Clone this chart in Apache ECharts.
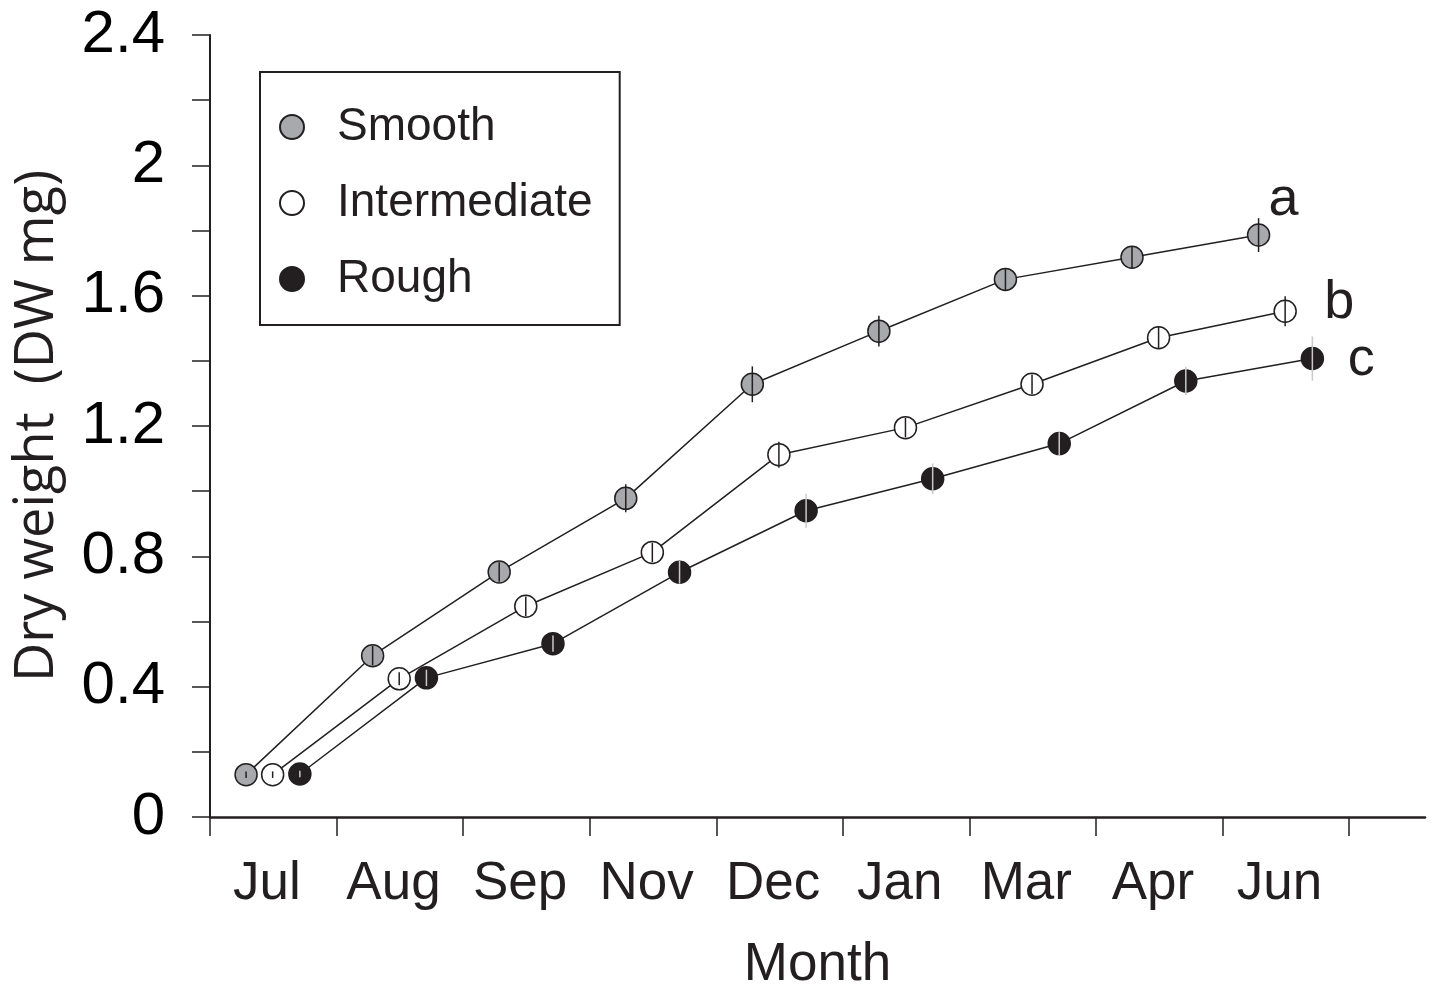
<!DOCTYPE html>
<html>
<head>
<meta charset="utf-8">
<script src="https://cdn.jsdelivr.net/npm/echarts@6/dist/echarts.min.js"></script>
<style>
html,body{margin:0;padding:0;background:#fff;}
#chart{width:1434px;height:987px;}
</style>
</head>
<body>
<div id="chart"></div>
<script>
// ---- data ----
const months = ['Jul','Aug','Sep','Nov','Dec','Jan','Mar','Apr','Jun'];
const seriesNames = ['Smooth','Intermediate','Rough'];
const smooth = [0.13,0.495,0.752,0.978,1.328,1.491,1.65,1.718,1.786];
const smoothErr = [0.01,0.03,0.03,0.043,0.055,0.047,0.033,0.033,0.052];
const intermediate = [0.13,0.424,0.647,0.812,1.112,1.195,1.328,1.471,1.552];
const intermediateErr = [0.01,0.02,0.03,0.03,0.04,0.03,0.03,0.033,0.046];
const rough = [0.132,0.427,0.532,0.751,0.94,1.038,1.146,1.338,1.407];
const roughErr = [0.01,0.025,0.025,0.035,0.052,0.047,0.035,0.043,0.068];
const sigLetters = ['a','b','c'];
const yTickLabels = ['0','0.4','0.8','1.2','1.6','2','2.4'];

// ---- style config ----
const INK = '#231f20';
const FONT = "'Liberation Sans', Arial, Helvetica, sans-serif";
const styles = [
  {fill:'#a7a9ac', bar:INK, offset:0.285, letterOffset:[25,-35]},
  {fill:'#ffffff', bar:INK, offset:0.495, letterOffset:[54,-8]},
  {fill:INK, bar:'#c9c9c9', offset:0.71, letterOffset:[49,2]}
];
const labelOffset = 0.45;
const values = [smooth, intermediate, rough];
const errs = [smoothErr, intermediateErr, roughErr];

const series = [];
values.forEach((vals, s) => {
  const st = styles[s];
  const data = vals.map((v, i) => {
    const item = {value:[i + st.offset, v]};
    if (i === vals.length - 1) {
      item.label = {
        show:true, formatter: sigLetters[s], position:'inside',
        offset: st.letterOffset, fontSize:54, fontFamily:FONT, color:INK
      };
    }
    return item;
  });
  series.push({
    name: seriesNames[s], type:'line', data,
    symbol:'circle', symbolSize:22, z:3,
    itemStyle:{color:st.fill, borderColor:INK, borderWidth:1.5},
    lineStyle:{color:INK, width:1.5},
    emphasis:{disabled:true}
  });
});
values.forEach((vals, s) => {
  const st = styles[s];
  series.push({
    type:'custom', z:10, silent:true,
    data: vals.map((v, i) => [i + st.offset, v, errs[s][i]]),
    encode:{x:0, y:1},
    renderItem: (params, api) => {
      const x = api.value(0), y = api.value(1), e = api.value(2);
      const p1 = api.coord([x, y - e]);
      const p2 = api.coord([x, y + e]);
      return {type:'line', shape:{x1:p1[0], y1:p1[1], x2:p2[0], y2:p2[1]},
        style:{stroke:st.bar, lineWidth:1.5}};
    }
  });
});

const chart = echarts.init(document.getElementById('chart'), null, {renderer:'canvas'});
chart.setOption({
  animation:false,
  backgroundColor:'#fff',
  grid:{left:210, right:9, top:35, bottom:170, containLabel:false, outerBoundsMode:'none'},
  legend:{
    data: seriesNames, orient:'vertical', left:260, top:72,
    padding:[32,27,23,19], borderColor:INK, borderWidth:2,
    icon:'circle', itemWidth:24, itemHeight:24, itemGap:30,
    textStyle:{fontSize:46, lineHeight:46, fontFamily:FONT, color:INK, padding:[0,0,0,28]},
    selectedMode:false
  },
  xAxis:{
    type:'value', min:0, max:9.6, interval:1,
    name:'Month', nameLocation:'middle', nameGap:122,
    nameTextStyle:{fontSize:53, fontFamily:FONT, color:INK},
    axisLine:{show:true, onZero:false, lineStyle:{color:INK, width:2.5}},
    axisTick:{show:true, length:19, lineStyle:{color:INK, width:1.5},
      customValues: months.map((m, i) => i).concat([months.length])},
    axisLabel:{fontSize:53, fontFamily:FONT, color:INK, margin:41,
      customValues: months.map((m, i) => i + labelOffset),
      formatter: v => months[Math.floor(v + 1e-6)] || ''},
    splitLine:{show:false}
  },
  yAxis:{
    type:'value', min:0, max:2.4, interval:0.2,
    name:'Dry weight  (DW mg)', nameLocation:'middle', nameGap:145,
    nameTextStyle:{fontSize:54, fontFamily:"'Open Sans', 'Noto Sans', sans-serif", color:INK},
    axisLine:{show:true, lineStyle:{color:INK, width:2}},
    axisTick:{show:true, length:18, lineStyle:{color:INK, width:1.5}},
    axisLabel:{fontSize:60, fontFamily:FONT, color:'#000', margin:45,
      formatter: v => {
        const k = Math.round(v * 10);
        return k % 4 === 0 ? yTickLabels[k / 4] : '';
      }},
    splitLine:{show:false}
  },
  series
});
</script>
</body>
</html>
